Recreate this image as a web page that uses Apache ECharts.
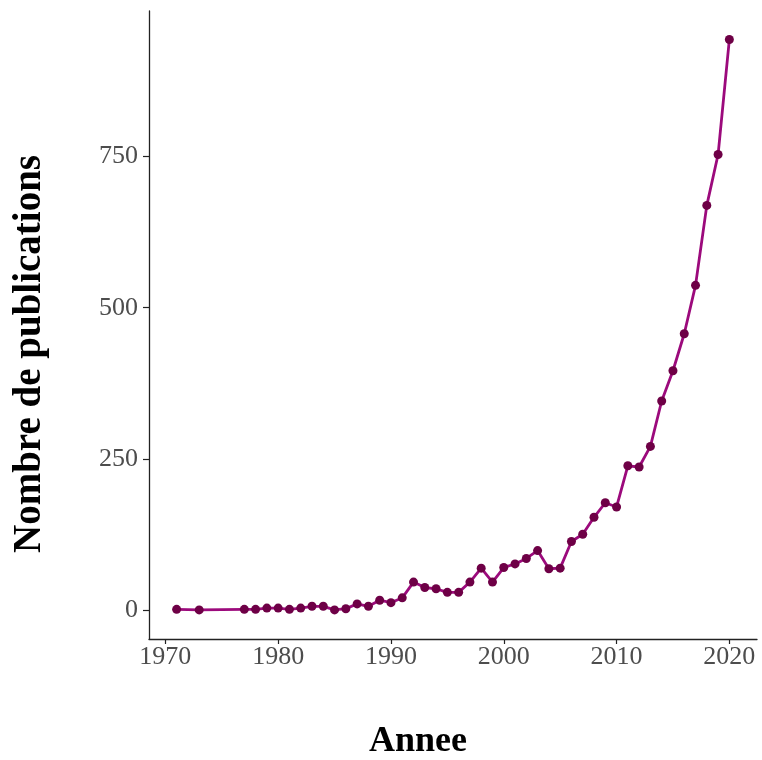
<!DOCTYPE html>
<html>
<head>
<meta charset="utf-8">
<script src="https://cdn.jsdelivr.net/npm/echarts@6/dist/echarts.min.js"></script>
<style>
html,body{margin:0;padding:0;background:#fff;}
#chart{width:762px;height:760px;}
</style>
</head>
<body>
<div id="chart"></div>
<script>
const years = [1971,1973,1977,1978,1979,1980,1981,1982,1983,1984,1985,1986,1987,1988,1989,1990,1991,1992,1993,1994,1995,1996,1997,1998,1999,2000,2001,2002,2003,2004,2005,2006,2007,2008,2009,2010,2011,2012,2013,2014,2015,2016,2017,2018,2019,2020];
const publications = [2,1,2,2,4,4,2,4,7,7,1,3,11,7,17,13,21,47,38,36,30,30,47,70,47,71,77,86,99,69,70,114,126,154,178,171,239,237,271,346,396,457,537,669,753,943];
const xTicks = [1970,1980,1990,2000,2010,2020];
const yTicks = [0,250,500,750];
const xTitle = 'Annee';
const yTitle = 'Nombre de publications';

const chart = echarts.init(document.getElementById('chart'), null, {renderer:'canvas'});
const axisCol = '#222';
const labelCol = '#4d4d4d';
const font = '"Liberation Serif", "Times New Roman", serif';
chart.setOption({
  animation:false,
  backgroundColor:'#fff',
  grid:{left:149,right:5,top:11,bottom:121,outerBoundsMode:'none'},
  xAxis:{
    type:'value', min:1968.55, max:2022.45,
    axisLine:{show:true,onZero:false,lineStyle:{color:axisCol,width:1.3}},
    axisTick:{show:true,length:5,customValues:xTicks,lineStyle:{color:axisCol,width:1.2}},
    axisLabel:{customValues:xTicks,color:labelCol,fontFamily:font,fontSize:26,margin:5,formatter:v=>String(v)},
    splitLine:{show:false}
  },
  yAxis:{
    type:'value', min:-47, max:990,
    axisLine:{show:true,onZero:false,lineStyle:{color:axisCol,width:1.3}},
    axisTick:{show:true,length:6,customValues:yTicks,lineStyle:{color:axisCol,width:1.2}},
    axisLabel:{customValues:yTicks,color:labelCol,fontFamily:font,fontSize:26,margin:11,formatter:v=>String(v)},
    splitLine:{show:false}
  },
  graphic:[
    {type:'text',x:418,y:742,style:{text:xTitle,font:'bold 36px '+font,fill:'#000',textAlign:'center',textVerticalAlign:'middle'}},
    {type:'text',x:30,y:354,rotation:Math.PI/2,style:{text:yTitle,font:'bold 39px '+font,fill:'#000',textAlign:'center',textVerticalAlign:'middle'}}
  ],
  series:[{
    type:'line',
    data:years.map((y,i)=>[y,publications[i]]),
    lineStyle:{color:'#9c0a7c',width:2.8},
    symbol:'circle',symbolSize:9,
    itemStyle:{color:'#6e0046',borderWidth:0},
    emphasis:{disabled:true}
  }]
});
</script>
</body>
</html>
